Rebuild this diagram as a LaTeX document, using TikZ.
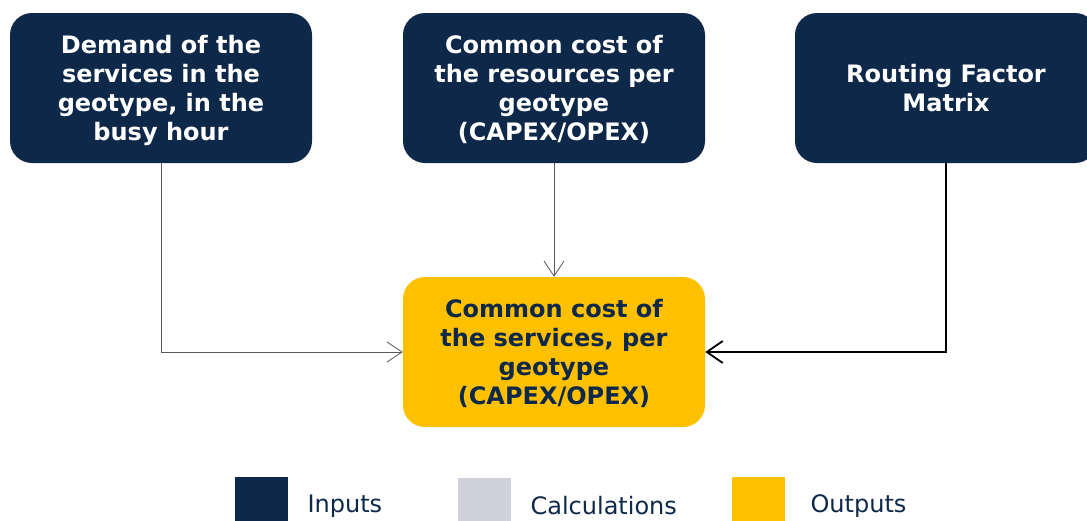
\documentclass[tikz,border=0pt]{standalone}
\usepackage{fontspec}
\setmainfont{DejaVu Sans}
\usetikzlibrary{arrows.meta}
\definecolor{navy}{RGB}{14,40,74}
\definecolor{amber}{RGB}{255,192,0}
\definecolor{calcgray}{RGB}{209,209,219}
\definecolor{linegray}{RGB}{90,90,90}

\begin{document}
\begin{tikzpicture}[x=1pt,y=-1pt,
  box/.style={rectangle,rounded corners=22pt,minimum width=302pt,minimum height=150pt,
    align=center,text depth=0pt,font=\fontsize{24}{29.2}\selectfont\bfseries},
  inbox/.style={box,fill=navy,text=white},
  outbox/.style={box,fill=amber,text=navy},
  thinarrow/.style={draw=linegray,line width=0.8pt,-{Straight Barb[length=15pt,width=20pt]}},
  thickarrow/.style={draw=black,line width=1.8pt,-{Straight Barb[length=16pt,width=22pt]}},
  legsq/.style={rectangle,minimum width=53pt,minimum height=53pt,anchor=north west},
  legtxt/.style={anchor=west,text=navy,font=\fontsize{24}{28}\selectfont}]
\useasboundingbox (0,0) rectangle (1087,520);
% inputs
\node[inbox] (demand) at (161,88) {Demand of the\\services in the\\geotype, in the\\busy hour};
\node[inbox] (resources) at (554,88) {Common cost of\\the resources per\\geotype\\(CAPEX/OPEX)};
\node[inbox] (routing) at (946,88) {Routing Factor\\Matrix};
% output
\node[outbox] (services) at (554,352) {Common cost of\\the services, per\\geotype\\(CAPEX/OPEX)};
\draw[thinarrow] (demand.south) |- (services.west);
\draw[thinarrow] (resources.south) -- (services.north);
\draw[thickarrow] (routing.south) |- (services.east);
% legend
\node[legsq,fill=navy] (leginputs) at (235,477) {};
\node[legtxt] at (304,506) {Inputs};
\node[legsq,fill=calcgray] (legcalc) at (458,478) {};
\node[legtxt] at (527,506) {Calculations};
\node[legsq,fill=amber] (legoutputs) at (732,477) {};
\node[legtxt] at (807,506) {Outputs};
\end{tikzpicture}
\end{document}
